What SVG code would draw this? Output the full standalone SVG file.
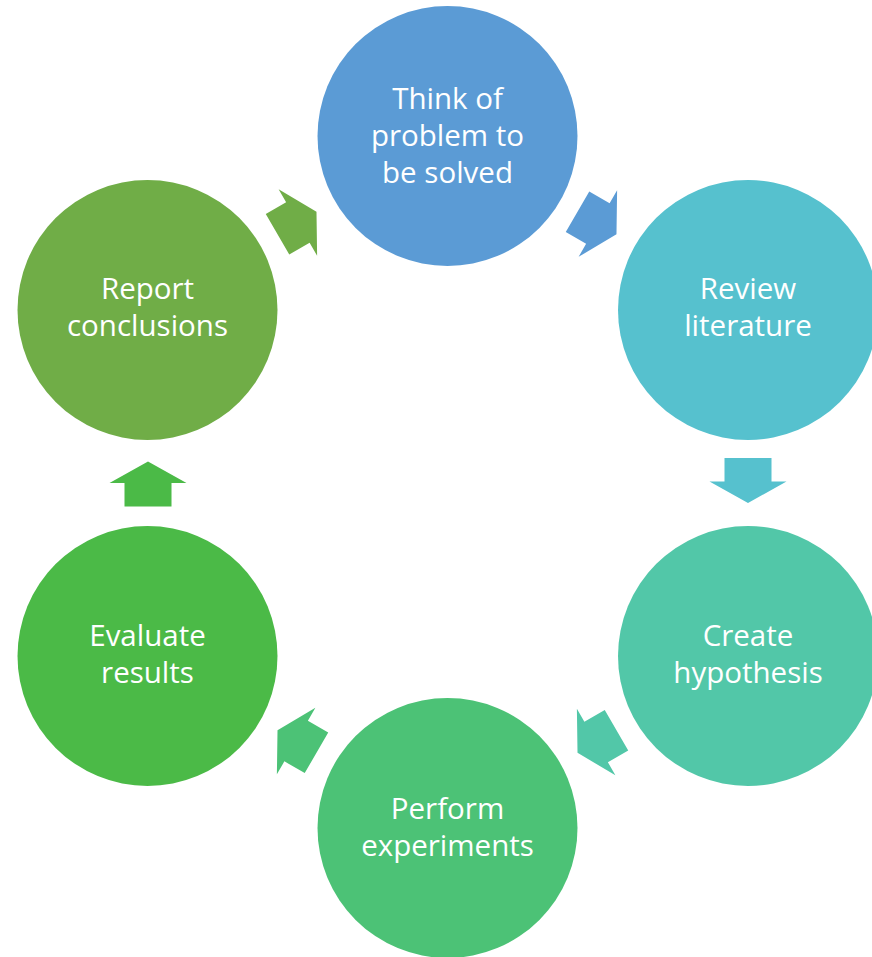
<svg xmlns="http://www.w3.org/2000/svg" width="872" height="957" viewBox="0 0 872 957">
<defs>
<style>
.lbl{font-family:"Open Sans","Liberation Sans",sans-serif;font-size:29.5px;fill:#ffffff;text-anchor:middle}
</style>
<path id="arr" d="M-22.5,-23.5 L1,-23.5 L1,-38.5 L22.5,0 L1,38.5 L1,23.5 L-22.5,23.5 Z"/>
</defs>
<rect width="872" height="957" fill="#ffffff"/>
<g id="connectors">
<use href="#arr" fill="#70AD47" transform="translate(297,223) rotate(-30)"/>
<use href="#arr" fill="#5B9BD5" transform="translate(597,223) rotate(30)"/>
<use href="#arr" fill="#56C1CE" transform="translate(748,480.5) rotate(90)"/>
<use href="#arr" fill="#52C7A8" transform="translate(597,741.5) rotate(150)"/>
<use href="#arr" fill="#4CC276" transform="translate(297,741.5) rotate(210)"/>
<use href="#arr" fill="#4BBA47" transform="translate(148,484) rotate(-90)"/>
</g>
<g id="think">
<circle cx="447.5" cy="136" r="130" fill="#5B9BD5"/>
<text class="lbl" x="447.5" y="109">Think of</text>
<text class="lbl" x="447.5" y="146">problem to</text>
<text class="lbl" x="447.5" y="183">be solved</text>
</g>
<g id="review">
<circle cx="748" cy="310" r="130" fill="#56C1CE"/>
<text class="lbl" x="748" y="299">Review</text>
<text class="lbl" x="748" y="336">literature</text>
</g>
<g id="create">
<circle cx="748" cy="656" r="130" fill="#52C7A8"/>
<text class="lbl" x="748" y="646">Create</text>
<text class="lbl" x="748" y="683">hypothesis</text>
</g>
<g id="perform">
<circle cx="447.5" cy="828" r="130" fill="#4CC276"/>
<text class="lbl" x="447.5" y="819">Perform</text>
<text class="lbl" x="447.5" y="856">experiments</text>
</g>
<g id="evaluate">
<circle cx="147.5" cy="656" r="130" fill="#4BBA47"/>
<text class="lbl" x="147.5" y="646">Evaluate</text>
<text class="lbl" x="147.5" y="683">results</text>
</g>
<g id="report">
<circle cx="147.5" cy="310" r="130" fill="#70AD47"/>
<text class="lbl" x="147.5" y="299">Report</text>
<text class="lbl" x="147.5" y="336">conclusions</text>
</g>
</svg>
